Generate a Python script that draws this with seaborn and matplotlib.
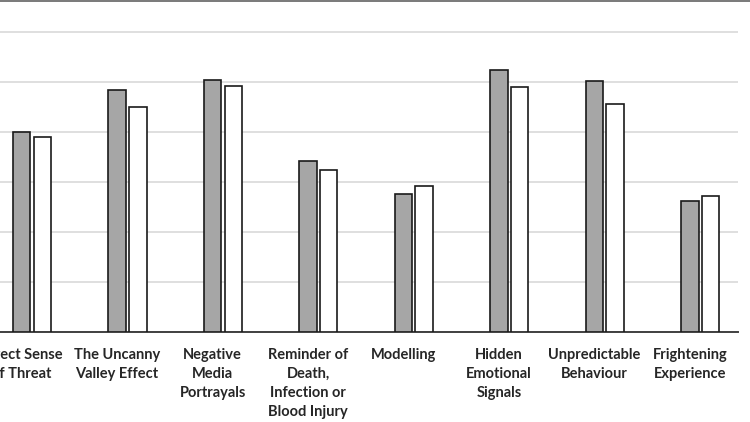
import numpy as np
import pandas as pd
import matplotlib.pyplot as plt
from matplotlib.lines import Line2D
import seaborn as sns

# Data (units = one gridline step)
categories = ['Direct Sense of Threat', 'The Uncanny Valley Effect',
              'Negative Media Portrayals', 'Reminder of Death, Infection or Blood Injury',
              'Modelling', 'Hidden Emotional Signals',
              'Unpredictable Behaviour', 'Frightening Experience']
tick_labels = ['Direct Sense\nof Threat', 'The Uncanny\nValley Effect',
               'Negative\nMedia\nPortrayals', 'Reminder of\nDeath,\nInfection or\nBlood Injury',
               'Modelling', 'Hidden\nEmotional\nSignals',
               'Unpredictable\nBehaviour', 'Frightening\nExperience']
# the original has an empty first series, so the grey bar sits on the tick
series = ['Hidden', 'Group 1', 'Group 2']
hidden = [np.nan] * len(categories)
group_1 = [3.99, 4.83, 5.04, 3.42, 2.75, 5.23, 5.02, 2.63]
group_2 = [3.89, 4.49, 4.91, 3.24, 2.91, 4.90, 4.56, 2.72]

df = pd.DataFrame({
    'Factor': categories * 3,
    'Score': hidden + group_1 + group_2,
    'Group': [s for s in series for _ in categories],
})

sns.set_theme(style='white')
plt.rcParams['font.family'] = ['Lato', 'DejaVu Sans']

W, H = 750, 422
fig = plt.figure(figsize=(W / 100, H / 100), dpi=100)

# plot area runs off the left edge of the picture, like the cropped original
left = (21.6 - 47.75) / W
right = 737.75 / W
bottom = (H - 332) / H
ax = fig.add_axes([left, bottom, right - left, 1 - bottom])

sns.barplot(data=df, x='Factor', y='Score', hue='Group', hue_order=series,
            palette=['white', '#a6a6a6', 'white'], edgecolor='#1a1a1a', linewidth=1.2,
            width=0.65, gap=0.155, legend=False, ax=ax, zorder=3)

ax.set_xlim(-0.5, 7.5)
ax.set_ylim(0, 332 / 50)
ax.set_yticks(range(0, 7))
ax.set_yticklabels([])
ax.yaxis.grid(True, color='#d9d9d9', linewidth=1.2, zorder=0)
ax.set_xlabel('')
ax.set_ylabel('')

ax.set_xticks(range(len(categories)))
ax.set_xticklabels(tick_labels, fontweight='bold', fontsize=10.5,
                   color='#262626', linespacing=1.45)
ax.tick_params(left=False, bottom=False, axis='x', pad=5.5)

for side in ['left', 'right', 'top']:
    ax.spines[side].set_visible(False)
ax.spines['bottom'].set_color('#404040')
ax.spines['bottom'].set_linewidth(1.4)

# dark border line along the top of the picture
fig.add_artist(Line2D([0, 1], [1 - 0.8 / H] * 2, transform=fig.transFigure,
                      color='#6e6e6e', linewidth=1.3))

fig.savefig('out.png', dpi=100)
